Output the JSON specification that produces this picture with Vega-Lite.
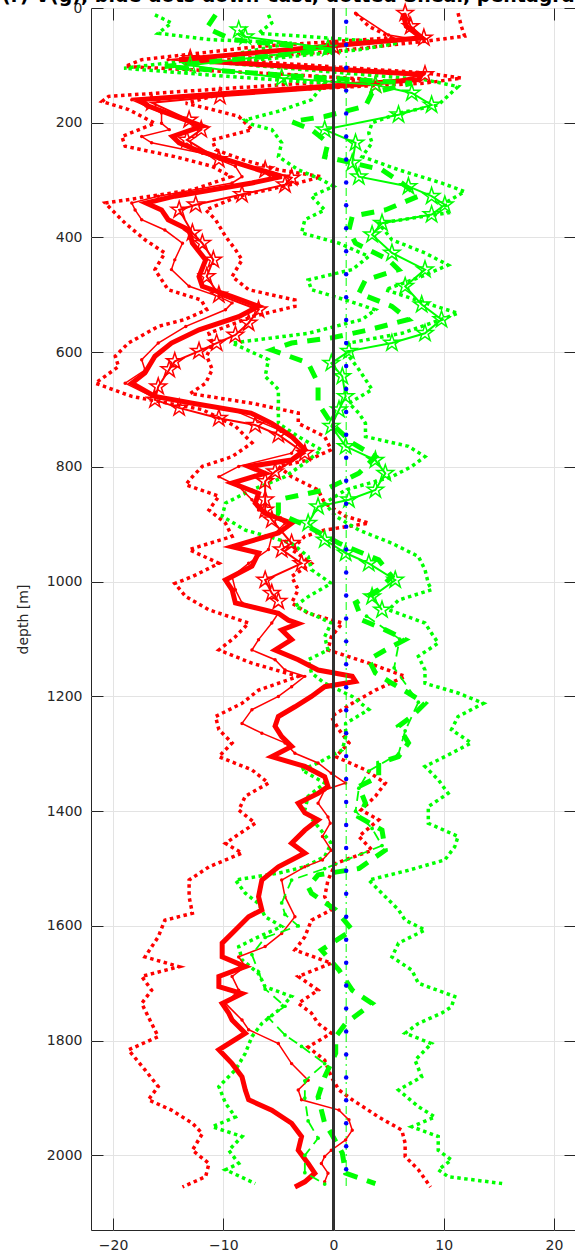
{
  "$schema": "https://vega.github.io/schema/vega-lite/v6.json",
  "width": 485,
  "height": 1222,
  "autosize": {"type": "none"},
  "padding": {"left": 91, "top": 8, "right": 0, "bottom": 30},
  "background": "white",
  "title": {"text": "U(r) V(g), blue dots down-cast, dotted Shear, pentagram up-cast", "font": "DejaVu Sans", "fontSize": 19, "fontWeight": "bold", "color": "#000000", "anchor": "middle", "offset": -20, "baseline": "alphabetic"},
  "config": {
    "view": {"stroke": "#262626", "strokeWidth": 1},
    "axis": {"labelFont": "DejaVu Sans", "labelFontSize": 14, "labelColor": "#262626", "titleFont": "DejaVu Sans", "titleFontSize": 14, "titleFontWeight": "normal", "titleColor": "#262626", "domain": false, "tickColor": "#262626", "tickSize": -12, "gridColor": "#e3e3e3", "gridWidth": 1, "format": "d"}
  },
  "data": {"values": [
{"s":"Ut","d":9,"x":6.3},{"s":"Ut","d":32,"x":6.6},{"s":"Ut","d":52,"x":8.0},{"s":"Ut","d":67,"x":-0.8},{"s":"Ut","d":90,"x":-14.0},{"s":"Ut","d":116,"x":8.0},{"s":"Ut","d":125,"x":7.7},{"s":"Ut","d":160,"x":-17.7},{"s":"Ut","d":171,"x":-16.8},{"s":"Ut","d":189,"x":-14.3},{"s":"Ut","d":206,"x":-11.9},{"s":"Ut","d":224,"x":-14.6},{"s":"Ut","d":235,"x":-14.0},{"s":"Ut","d":247,"x":-12.5},{"s":"Ut","d":264,"x":-9.8},{"s":"Ut","d":282,"x":-6.8},{"s":"Ut","d":294,"x":-4.7},{"s":"Ut","d":305,"x":-7.4},{"s":"Ut","d":328,"x":-14.4},{"s":"Ut","d":340,"x":-17.0},{"s":"Ut","d":352,"x":-15.6},{"s":"Ut","d":369,"x":-15.0},{"s":"Ut","d":387,"x":-13.1},{"s":"Ut","d":410,"x":-12.8},{"s":"Ut","d":439,"x":-11.6},{"s":"Ut","d":468,"x":-12.2},{"s":"Ut","d":485,"x":-11.9},{"s":"Ut","d":503,"x":-9.2},{"s":"Ut","d":520,"x":-6.8},{"s":"Ut","d":538,"x":-8.6},{"s":"Ut","d":561,"x":-12.2},{"s":"Ut","d":584,"x":-14.7},{"s":"Ut","d":607,"x":-16.2},{"s":"Ut","d":636,"x":-17.1},{"s":"Ut","d":654,"x":-18.3},{"s":"Ut","d":677,"x":-16.2},{"s":"Ut","d":689,"x":-12.8},{"s":"Ut","d":706,"x":-7.5},{"s":"Ut","d":724,"x":-5.6},{"s":"Ut","d":747,"x":-3.8},{"s":"Ut","d":770,"x":-2.6},{"s":"Ut","d":788,"x":-3.8},{"s":"Ut","d":799,"x":-7.7},{"s":"Ut","d":811,"x":-6.2},{"s":"Ut","d":828,"x":-9.2},{"s":"Ut","d":846,"x":-6.8},{"s":"Ut","d":863,"x":-7.1},{"s":"Ut","d":881,"x":-6.2},{"s":"Ut","d":898,"x":-3.8},{"s":"Ut","d":915,"x":-5.0},{"s":"Ut","d":939,"x":-9.2},{"s":"Ut","d":950,"x":-6.8},{"s":"Ut","d":973,"x":-7.4},{"s":"Ut","d":997,"x":-9.8},{"s":"Ut","d":1014,"x":-9.2},{"s":"Ut","d":1037,"x":-8.9},{"s":"Ut","d":1055,"x":-5.0},{"s":"Ut","d":1067,"x":-4.1},{"s":"Ut","d":1073,"x":-3.2},{"s":"Ut","d":1084,"x":-4.7},{"s":"Ut","d":1101,"x":-3.8},{"s":"Ut","d":1119,"x":-5.3},{"s":"Ut","d":1136,"x":-3.2},{"s":"Ut","d":1154,"x":-1.4},{"s":"Ut","d":1165,"x":1.7},{"s":"Ut","d":1174,"x":2.0},{"s":"Ut","d":1183,"x":-0.8},{"s":"Ut","d":1200,"x":-2.0},{"s":"Ut","d":1218,"x":-3.5},{"s":"Ut","d":1235,"x":-5.0},{"s":"Ut","d":1252,"x":-5.3},{"s":"Ut","d":1270,"x":-4.7},{"s":"Ut","d":1287,"x":-3.8},{"s":"Ut","d":1305,"x":-5.6},{"s":"Ut","d":1322,"x":-2.6},{"s":"Ut","d":1340,"x":-0.8},{"s":"Ut","d":1357,"x":-0.5},{"s":"Ut","d":1369,"x":-1.4},{"s":"Ut","d":1386,"x":-3.2},{"s":"Ut","d":1403,"x":-2.6},{"s":"Ut","d":1415,"x":-1.4},{"s":"Ut","d":1433,"x":-2.6},{"s":"Ut","d":1456,"x":-3.8},{"s":"Ut","d":1473,"x":-2.6},{"s":"Ut","d":1497,"x":-5.0},{"s":"Ut","d":1520,"x":-6.5},{"s":"Ut","d":1549,"x":-6.8},{"s":"Ut","d":1572,"x":-6.5},{"s":"Ut","d":1584,"x":-7.7},{"s":"Ut","d":1607,"x":-8.9},{"s":"Ut","d":1630,"x":-10.1},{"s":"Ut","d":1654,"x":-10.1},{"s":"Ut","d":1671,"x":-8.0},{"s":"Ut","d":1688,"x":-10.4},{"s":"Ut","d":1706,"x":-10.4},{"s":"Ut","d":1718,"x":-8.3},{"s":"Ut","d":1735,"x":-10.1},{"s":"Ut","d":1752,"x":-9.5},{"s":"Ut","d":1764,"x":-9.2},{"s":"Ut","d":1787,"x":-8.0},{"s":"Ut","d":1816,"x":-10.4},{"s":"Ut","d":1840,"x":-9.2},{"s":"Ut","d":1863,"x":-8.3},{"s":"Ut","d":1886,"x":-8.0},{"s":"Ut","d":1903,"x":-7.7},{"s":"Ut","d":1921,"x":-5.6},{"s":"Ut","d":1944,"x":-3.8},{"s":"Ut","d":1967,"x":-2.9},{"s":"Ut","d":1991,"x":-3.2},{"s":"Ut","d":2014,"x":-2.3},{"s":"Ut","d":2031,"x":-1.7},{"s":"Ut","d":2046,"x":-2.6},{"s":"Ut","d":2055,"x":-3.5},
{"s":"Un","d":9,"x":2.0},{"s":"Un","d":47,"x":5.0},{"s":"Un","d":55,"x":7.5},{"s":"Un","d":67,"x":-1.0},{"s":"Un","d":90,"x":-15.0},{"s":"Un","d":116,"x":7.5},{"s":"Un","d":125,"x":7.0},{"s":"Un","d":160,"x":-18.3},{"s":"Un","d":171,"x":-17.0},{"s":"Un","d":183,"x":-15.6},{"s":"Un","d":201,"x":-15.6},{"s":"Un","d":212,"x":-14.9},{"s":"Un","d":224,"x":-17.4},{"s":"Un","d":235,"x":-16.5},{"s":"Un","d":253,"x":-11.9},{"s":"Un","d":276,"x":-8.9},{"s":"Un","d":294,"x":-8.3},{"s":"Un","d":305,"x":-9.2},{"s":"Un","d":328,"x":-15.9},{"s":"Un","d":340,"x":-18.3},{"s":"Un","d":352,"x":-18.0},{"s":"Un","d":369,"x":-17.4},{"s":"Un","d":387,"x":-15.3},{"s":"Un","d":410,"x":-13.7},{"s":"Un","d":439,"x":-14.4},{"s":"Un","d":456,"x":-14.7},{"s":"Un","d":485,"x":-13.1},{"s":"Un","d":503,"x":-10.4},{"s":"Un","d":514,"x":-9.2},{"s":"Un","d":526,"x":-9.8},{"s":"Un","d":555,"x":-13.4},{"s":"Un","d":584,"x":-15.9},{"s":"Un","d":613,"x":-17.4},{"s":"Un","d":631,"x":-17.1},{"s":"Un","d":654,"x":-18.9},{"s":"Un","d":677,"x":-16.5},{"s":"Un","d":700,"x":-9.2},{"s":"Un","d":735,"x":-5.0},{"s":"Un","d":758,"x":-3.2},{"s":"Un","d":776,"x":-3.8},{"s":"Un","d":799,"x":-8.6},{"s":"Un","d":817,"x":-10.4},{"s":"Un","d":834,"x":-8.6},{"s":"Un","d":857,"x":-7.4},{"s":"Un","d":875,"x":-6.8},{"s":"Un","d":898,"x":-4.4},{"s":"Un","d":921,"x":-5.6},{"s":"Un","d":944,"x":-5.9},{"s":"Un","d":968,"x":-7.7},{"s":"Un","d":991,"x":-9.2},{"s":"Un","d":1014,"x":-8.9},{"s":"Un","d":1037,"x":-8.3},{"s":"Un","d":1055,"x":-5.0},{"s":"Un","d":1072,"x":-5.6},{"s":"Un","d":1101,"x":-6.8},{"s":"Un","d":1119,"x":-7.4},{"s":"Un","d":1136,"x":-5.3},{"s":"Un","d":1154,"x":-4.4},{"s":"Un","d":1165,"x":-2.6},{"s":"Un","d":1183,"x":-3.8},{"s":"Un","d":1200,"x":-5.0},{"s":"Un","d":1223,"x":-7.4},{"s":"Un","d":1247,"x":-8.3},{"s":"Un","d":1264,"x":-6.5},{"s":"Un","d":1281,"x":-4.4},{"s":"Un","d":1299,"x":-3.5},{"s":"Un","d":1316,"x":-1.4},{"s":"Un","d":1334,"x":-0.2},{"s":"Un","d":1351,"x":1.1},{"s":"Un","d":1363,"x":-0.8},{"s":"Un","d":1386,"x":-1.4},{"s":"Un","d":1410,"x":-0.5},{"s":"Un","d":1421,"x":-0.3},{"s":"Un","d":1444,"x":-1.0},{"s":"Un","d":1468,"x":-0.2},{"s":"Un","d":1485,"x":-1.0},{"s":"Un","d":1497,"x":-2.6},{"s":"Un","d":1520,"x":-4.7},{"s":"Un","d":1549,"x":-4.4},{"s":"Un","d":1584,"x":-3.5},{"s":"Un","d":1613,"x":-4.7},{"s":"Un","d":1636,"x":-6.2},{"s":"Un","d":1654,"x":-8.6},{"s":"Un","d":1671,"x":-8.0},{"s":"Un","d":1688,"x":-9.2},{"s":"Un","d":1712,"x":-8.6},{"s":"Un","d":1735,"x":-9.8},{"s":"Un","d":1764,"x":-8.3},{"s":"Un","d":1781,"x":-7.7},{"s":"Un","d":1805,"x":-5.0},{"s":"Un","d":1840,"x":-3.8},{"s":"Un","d":1869,"x":-2.3},{"s":"Un","d":1886,"x":-3.2},{"s":"Un","d":1903,"x":-2.9},{"s":"Un","d":1921,"x":0.5},{"s":"Un","d":1938,"x":1.4},{"s":"Un","d":1956,"x":1.7},{"s":"Un","d":1973,"x":1.1},{"s":"Un","d":1991,"x":-0.2},{"s":"Un","d":2002,"x":-0.8},{"s":"Un","d":2014,"x":-1.1},{"s":"Un","d":2031,"x":-0.5},{"s":"Un","d":2046,"x":-0.8},
{"s":"Us","d":9,"x":6.5},{"s":"Us","d":32,"x":7.0},{"s":"Us","d":52,"x":8.2},{"s":"Us","d":67,"x":0.0},{"s":"Us","d":88,"x":-13.0},{"s":"Us","d":116,"x":8.3},{"s":"Us","d":134,"x":3.8},{"s":"Us","d":154,"x":-10.3},{"s":"Us","d":165,"x":-16.5},{"s":"Us","d":195,"x":-13.1},{"s":"Us","d":212,"x":-12.0},{"s":"Us","d":230,"x":-13.3},{"s":"Us","d":264,"x":-10.4},{"s":"Us","d":282,"x":-6.2},{"s":"Us","d":296,"x":-3.8},{"s":"Us","d":308,"x":-4.4},{"s":"Us","d":325,"x":-8.3},{"s":"Us","d":343,"x":-12.5},{"s":"Us","d":352,"x":-14.0},{"s":"Us","d":392,"x":-12.8},{"s":"Us","d":410,"x":-11.9},{"s":"Us","d":439,"x":-10.9},{"s":"Us","d":468,"x":-11.5},{"s":"Us","d":500,"x":-10.4},{"s":"Us","d":526,"x":-6.8},{"s":"Us","d":549,"x":-7.7},{"s":"Us","d":570,"x":-8.9},{"s":"Us","d":584,"x":-10.6},{"s":"Us","d":598,"x":-12.2},{"s":"Us","d":616,"x":-14.4},{"s":"Us","d":630,"x":-14.9},{"s":"Us","d":660,"x":-15.9},{"s":"Us","d":683,"x":-16.2},{"s":"Us","d":697,"x":-14.0},{"s":"Us","d":715,"x":-10.4},{"s":"Us","d":727,"x":-7.1},{"s":"Us","d":744,"x":-5.0},{"s":"Us","d":776,"x":-2.6},{"s":"Us","d":808,"x":-5.3},{"s":"Us","d":825,"x":-6.2},{"s":"Us","d":857,"x":-6.2},{"s":"Us","d":875,"x":-6.2},{"s":"Us","d":892,"x":-5.6},{"s":"Us","d":933,"x":-3.8},{"s":"Us","d":944,"x":-4.7},{"s":"Us","d":968,"x":-2.9},{"s":"Us","d":997,"x":-6.2},{"s":"Us","d":1020,"x":-5.6},{"s":"Us","d":1034,"x":-5.0},
{"s":"UL","d":9,"x":2.0},{"s":"UL","d":32,"x":3.2},{"s":"UL","d":52,"x":5.3},{"s":"UL","d":67,"x":-6.8},{"s":"UL","d":90,"x":-17.4},{"s":"UL","d":102,"x":-18.9},{"s":"UL","d":116,"x":-4.0},{"s":"UL","d":124,"x":3.0},{"s":"UL","d":154,"x":-20.4},{"s":"UL","d":163,"x":-21.0},{"s":"UL","d":177,"x":-18.6},{"s":"UL","d":201,"x":-16.2},{"s":"UL","d":224,"x":-19.2},{"s":"UL","d":241,"x":-18.9},{"s":"UL","d":259,"x":-14.4},{"s":"UL","d":276,"x":-11.0},{"s":"UL","d":294,"x":-9.3},{"s":"UL","d":317,"x":-12.8},{"s":"UL","d":340,"x":-20.7},{"s":"UL","d":352,"x":-20.1},{"s":"UL","d":375,"x":-18.9},{"s":"UL","d":404,"x":-17.1},{"s":"UL","d":427,"x":-15.3},{"s":"UL","d":456,"x":-16.2},{"s":"UL","d":491,"x":-15.0},{"s":"UL","d":509,"x":-12.0},{"s":"UL","d":526,"x":-11.5},{"s":"UL","d":543,"x":-13.5},{"s":"UL","d":555,"x":-15.9},{"s":"UL","d":584,"x":-18.6},{"s":"UL","d":607,"x":-19.8},{"s":"UL","d":625,"x":-19.5},{"s":"UL","d":654,"x":-21.6},{"s":"UL","d":677,"x":-18.3},{"s":"UL","d":700,"x":-11.9},{"s":"UL","d":729,"x":-8.9},{"s":"UL","d":758,"x":-7.4},{"s":"UL","d":782,"x":-9.2},{"s":"UL","d":799,"x":-11.9},{"s":"UL","d":817,"x":-12.8},{"s":"UL","d":831,"x":-13.4},{"s":"UL","d":851,"x":-10.4},{"s":"UL","d":875,"x":-11.3},{"s":"UL","d":898,"x":-9.8},{"s":"UL","d":921,"x":-9.2},{"s":"UL","d":944,"x":-13.1},{"s":"UL","d":968,"x":-10.4},{"s":"UL","d":991,"x":-12.8},{"s":"UL","d":1003,"x":-14.4},{"s":"UL","d":1026,"x":-13.4},{"s":"UL","d":1049,"x":-11.3},{"s":"UL","d":1072,"x":-7.7},{"s":"UL","d":1096,"x":-8.9},{"s":"UL","d":1119,"x":-10.4},{"s":"UL","d":1142,"x":-7.4},{"s":"UL","d":1165,"x":-3.2},{"s":"UL","d":1189,"x":-6.8},{"s":"UL","d":1212,"x":-8.3},{"s":"UL","d":1235,"x":-10.7},{"s":"UL","d":1258,"x":-10.4},{"s":"UL","d":1281,"x":-9.2},{"s":"UL","d":1305,"x":-10.4},{"s":"UL","d":1328,"x":-7.4},{"s":"UL","d":1351,"x":-5.9},{"s":"UL","d":1374,"x":-8.0},{"s":"UL","d":1398,"x":-8.6},{"s":"UL","d":1421,"x":-7.1},{"s":"UL","d":1444,"x":-8.9},{"s":"UL","d":1456,"x":-9.8},{"s":"UL","d":1473,"x":-8.3},{"s":"UL","d":1497,"x":-11.3},{"s":"UL","d":1520,"x":-13.1},{"s":"UL","d":1549,"x":-13.1},{"s":"UL","d":1578,"x":-12.8},{"s":"UL","d":1590,"x":-15.3},{"s":"UL","d":1619,"x":-15.9},{"s":"UL","d":1654,"x":-17.1},{"s":"UL","d":1671,"x":-14.0},{"s":"UL","d":1688,"x":-17.4},{"s":"UL","d":1712,"x":-16.5},{"s":"UL","d":1735,"x":-17.4},{"s":"UL","d":1770,"x":-16.5},{"s":"UL","d":1793,"x":-15.9},{"s":"UL","d":1816,"x":-18.6},{"s":"UL","d":1851,"x":-17.1},{"s":"UL","d":1880,"x":-15.9},{"s":"UL","d":1903,"x":-16.8},{"s":"UL","d":1921,"x":-14.7},{"s":"UL","d":1944,"x":-12.8},{"s":"UL","d":1962,"x":-11.9},{"s":"UL","d":1991,"x":-12.8},{"s":"UL","d":2014,"x":-11.3},{"s":"UL","d":2037,"x":-11.6},{"s":"UL","d":2055,"x":-13.7},
{"s":"UR","d":9,"x":11.3},{"s":"UR","d":32,"x":11.6},{"s":"UR","d":49,"x":11.9},{"s":"UR","d":58,"x":8.3},{"s":"UR","d":76,"x":-0.2},{"s":"UR","d":90,"x":-9.8},{"s":"UR","d":113,"x":8.3},{"s":"UR","d":122,"x":11.6},{"s":"UR","d":131,"x":8.3},{"s":"UR","d":148,"x":-9.8},{"s":"UR","d":166,"x":-13.4},{"s":"UR","d":177,"x":-11.0},{"s":"UR","d":189,"x":-8.6},{"s":"UR","d":212,"x":-7.4},{"s":"UR","d":230,"x":-11.0},{"s":"UR","d":247,"x":-10.7},{"s":"UR","d":264,"x":-8.3},{"s":"UR","d":282,"x":-5.0},{"s":"UR","d":294,"x":-1.1},{"s":"UR","d":305,"x":-3.2},{"s":"UR","d":328,"x":-8.6},{"s":"UR","d":352,"x":-11.6},{"s":"UR","d":369,"x":-10.7},{"s":"UR","d":398,"x":-9.8},{"s":"UR","d":421,"x":-8.9},{"s":"UR","d":439,"x":-8.3},{"s":"UR","d":468,"x":-9.2},{"s":"UR","d":491,"x":-7.7},{"s":"UR","d":509,"x":-3.5},{"s":"UR","d":520,"x":-3.5},{"s":"UR","d":538,"x":-7.4},{"s":"UR","d":567,"x":-11.3},{"s":"UR","d":584,"x":-11.0},{"s":"UR","d":607,"x":-11.5},{"s":"UR","d":630,"x":-11.0},{"s":"UR","d":654,"x":-11.6},{"s":"UR","d":672,"x":-13.0},{"s":"UR","d":689,"x":-7.4},{"s":"UR","d":706,"x":-3.2},{"s":"UR","d":724,"x":-3.2},{"s":"UR","d":747,"x":-0.8},{"s":"UR","d":770,"x":-0.2},{"s":"UR","d":788,"x":-2.3},{"s":"UR","d":799,"x":-5.0},{"s":"UR","d":817,"x":-3.8},{"s":"UR","d":840,"x":-1.4},{"s":"UR","d":863,"x":-0.8},{"s":"UR","d":886,"x":1.1},{"s":"UR","d":898,"x":3.2},{"s":"UR","d":910,"x":-0.8},{"s":"UR","d":921,"x":-2.6},{"s":"UR","d":944,"x":-3.8},{"s":"UR","d":968,"x":-2.0},{"s":"UR","d":991,"x":-3.8},{"s":"UR","d":1014,"x":-3.2},{"s":"UR","d":1037,"x":-3.8},{"s":"UR","d":1055,"x":-2.3},{"s":"UR","d":1072,"x":0.8},{"s":"UR","d":1096,"x":-0.2},{"s":"UR","d":1119,"x":-0.5},{"s":"UR","d":1142,"x":3.2},{"s":"UR","d":1165,"x":6.5},{"s":"UR","d":1189,"x":3.8},{"s":"UR","d":1212,"x":1.7},{"s":"UR","d":1235,"x":-0.2},{"s":"UR","d":1258,"x":0.5},{"s":"UR","d":1281,"x":1.4},{"s":"UR","d":1305,"x":0.2},{"s":"UR","d":1328,"x":2.9},{"s":"UR","d":1351,"x":4.7},{"s":"UR","d":1374,"x":3.8},{"s":"UR","d":1398,"x":2.5},{"s":"UR","d":1415,"x":4.1},{"s":"UR","d":1444,"x":2.3},{"s":"UR","d":1468,"x":3.5},{"s":"UR","d":1491,"x":0.2},{"s":"UR","d":1520,"x":-0.5},{"s":"UR","d":1549,"x":-0.8},{"s":"UR","d":1572,"x":-0.2},{"s":"UR","d":1590,"x":-2.0},{"s":"UR","d":1619,"x":-2.6},{"s":"UR","d":1642,"x":-3.5},{"s":"UR","d":1665,"x":-0.2},{"s":"UR","d":1688,"x":-3.2},{"s":"UR","d":1712,"x":-1.4},{"s":"UR","d":1735,"x":-3.2},{"s":"UR","d":1752,"x":-2.0},{"s":"UR","d":1770,"x":-1.4},{"s":"UR","d":1787,"x":-0.2},{"s":"UR","d":1811,"x":-2.3},{"s":"UR","d":1834,"x":-0.8},{"s":"UR","d":1863,"x":-0.2},{"s":"UR","d":1886,"x":0.5},{"s":"UR","d":1903,"x":1.7},{"s":"UR","d":1933,"x":4.1},{"s":"UR","d":1956,"x":6.2},{"s":"UR","d":1979,"x":6.5},{"s":"UR","d":2002,"x":6.5},{"s":"UR","d":2025,"x":7.7},{"s":"UR","d":2055,"x":8.8},
{"s":"Vt","d":12,"x":-10.7},{"s":"Vt","d":35,"x":-11.5},{"s":"Vt","d":55,"x":-9.2},{"s":"Vt","d":73,"x":-0.2},{"s":"Vt","d":102,"x":-15.3},{"s":"Vt","d":119,"x":-3.2},{"s":"Vt","d":131,"x":7.1},{"s":"Vt","d":148,"x":3.5},{"s":"Vt","d":171,"x":2.9},{"s":"Vt","d":189,"x":-0.8},{"s":"Vt","d":198,"x":-3.8},{"s":"Vt","d":212,"x":-2.0},{"s":"Vt","d":235,"x":-0.5},{"s":"Vt","d":259,"x":-0.8},{"s":"Vt","d":282,"x":4.4},{"s":"Vt","d":305,"x":6.2},{"s":"Vt","d":328,"x":7.7},{"s":"Vt","d":352,"x":4.7},{"s":"Vt","d":363,"x":1.7},{"s":"Vt","d":387,"x":1.4},{"s":"Vt","d":410,"x":2.0},{"s":"Vt","d":439,"x":5.0},{"s":"Vt","d":456,"x":5.9},{"s":"Vt","d":474,"x":2.9},{"s":"Vt","d":497,"x":2.3},{"s":"Vt","d":520,"x":5.3},{"s":"Vt","d":543,"x":6.8},{"s":"Vt","d":561,"x":3.2},{"s":"Vt","d":575,"x":-0.2},{"s":"Vt","d":584,"x":-3.8},{"s":"Vt","d":596,"x":-5.6},{"s":"Vt","d":619,"x":-2.3},{"s":"Vt","d":654,"x":-1.4},{"s":"Vt","d":689,"x":-1.4},{"s":"Vt","d":724,"x":-0.2},{"s":"Vt","d":758,"x":1.7},{"s":"Vt","d":782,"x":3.8},{"s":"Vt","d":811,"x":2.3},{"s":"Vt","d":840,"x":-0.8},{"s":"Vt","d":857,"x":-5.0},{"s":"Vt","d":881,"x":-5.0},{"s":"Vt","d":904,"x":-2.3},{"s":"Vt","d":933,"x":0.5},{"s":"Vt","d":962,"x":4.1},{"s":"Vt","d":991,"x":5.3},{"s":"Vt","d":1014,"x":4.1},{"s":"Vt","d":1037,"x":2.0},{"s":"Vt","d":1067,"x":2.6},{"s":"Vt","d":1084,"x":4.7},{"s":"Vt","d":1101,"x":6.5},{"s":"Vt","d":1119,"x":4.7},{"s":"Vt","d":1136,"x":3.2},{"s":"Vt","d":1159,"x":3.8},{"s":"Vt","d":1177,"x":5.3},{"s":"Vt","d":1194,"x":6.8},{"s":"Vt","d":1212,"x":8.3},{"s":"Vt","d":1235,"x":7.1},{"s":"Vt","d":1252,"x":5.9},{"s":"Vt","d":1281,"x":6.8},{"s":"Vt","d":1305,"x":5.9},{"s":"Vt","d":1316,"x":4.1},{"s":"Vt","d":1340,"x":4.1},{"s":"Vt","d":1357,"x":2.3},{"s":"Vt","d":1386,"x":2.9},{"s":"Vt","d":1410,"x":2.3},{"s":"Vt","d":1433,"x":4.4},{"s":"Vt","d":1468,"x":4.7},{"s":"Vt","d":1500,"x":2.3},{"s":"Vt","d":1511,"x":-1.4},{"s":"Vt","d":1532,"x":-2.3},{"s":"Vt","d":1543,"x":-2.0},{"s":"Vt","d":1572,"x":0.2},{"s":"Vt","d":1607,"x":1.7},{"s":"Vt","d":1642,"x":-1.1},{"s":"Vt","d":1677,"x":0.5},{"s":"Vt","d":1712,"x":1.7},{"s":"Vt","d":1735,"x":3.5},{"s":"Vt","d":1770,"x":1.1},{"s":"Vt","d":1793,"x":0.2},{"s":"Vt","d":1822,"x":0.2},{"s":"Vt","d":1863,"x":-0.8},{"s":"Vt","d":1898,"x":-1.4},{"s":"Vt","d":1944,"x":-0.8},{"s":"Vt","d":1962,"x":-0.2},{"s":"Vt","d":1996,"x":0.8},{"s":"Vt","d":2031,"x":1.1},{"s":"Vt","d":2049,"x":3.8},
{"s":"Vs","d":38,"x":-8.6},{"s":"Vs","d":50,"x":-8.0},{"s":"Vs","d":70,"x":-0.5},{"s":"Vs","d":100,"x":-13.0},{"s":"Vs","d":122,"x":-4.7},{"s":"Vs","d":134,"x":3.8},{"s":"Vs","d":148,"x":7.1},{"s":"Vs","d":169,"x":8.9},{"s":"Vs","d":186,"x":5.9},{"s":"Vs","d":212,"x":-0.8},{"s":"Vs","d":235,"x":2.0},{"s":"Vs","d":270,"x":1.7},{"s":"Vs","d":294,"x":2.3},{"s":"Vs","d":311,"x":6.8},{"s":"Vs","d":328,"x":8.9},{"s":"Vs","d":343,"x":10.1},{"s":"Vs","d":360,"x":8.9},{"s":"Vs","d":375,"x":4.4},{"s":"Vs","d":395,"x":3.5},{"s":"Vs","d":427,"x":5.3},{"s":"Vs","d":456,"x":8.3},{"s":"Vs","d":485,"x":6.5},{"s":"Vs","d":517,"x":8.0},{"s":"Vs","d":543,"x":9.8},{"s":"Vs","d":567,"x":8.3},{"s":"Vs","d":584,"x":5.3},{"s":"Vs","d":598,"x":1.4},{"s":"Vs","d":619,"x":-0.2},{"s":"Vs","d":642,"x":0.8},{"s":"Vs","d":677,"x":1.1},{"s":"Vs","d":700,"x":0.5},{"s":"Vs","d":729,"x":-0.2},{"s":"Vs","d":764,"x":1.1},{"s":"Vs","d":788,"x":3.8},{"s":"Vs","d":811,"x":4.7},{"s":"Vs","d":840,"x":3.8},{"s":"Vs","d":857,"x":1.4},{"s":"Vs","d":869,"x":-1.4},{"s":"Vs","d":898,"x":-2.3},{"s":"Vs","d":927,"x":-0.8},{"s":"Vs","d":950,"x":1.1},{"s":"Vs","d":968,"x":3.2},{"s":"Vs","d":997,"x":5.6},{"s":"Vs","d":1026,"x":3.5},{"s":"Vs","d":1049,"x":4.4},
{"s":"Vn","d":1060,"x":3.0},{"s":"Vn","d":1100,"x":6.0},{"s":"Vn","d":1150,"x":5.5},{"s":"Vn","d":1210,"x":7.7},{"s":"Vn","d":1260,"x":6.5},{"s":"Vn","d":1300,"x":5.9},{"s":"Vn","d":1330,"x":3.2},{"s":"Vn","d":1360,"x":2.3},{"s":"Vn","d":1400,"x":2.0},{"s":"Vn","d":1430,"x":3.5},{"s":"Vn","d":1460,"x":4.4},{"s":"Vn","d":1500,"x":-0.8},{"s":"Vn","d":1520,"x":-3.8},{"s":"Vn","d":1560,"x":-4.7},{"s":"Vn","d":1580,"x":-4.4},{"s":"Vn","d":1600,"x":-3.2},{"s":"Vn","d":1620,"x":-6.2},{"s":"Vn","d":1650,"x":-7.4},{"s":"Vn","d":1680,"x":-6.8},{"s":"Vn","d":1710,"x":-6.2},{"s":"Vn","d":1740,"x":-4.4},{"s":"Vn","d":1760,"x":-5.9},{"s":"Vn","d":1790,"x":-4.4},{"s":"Vn","d":1810,"x":-2.9},{"s":"Vn","d":1840,"x":-0.8},{"s":"Vn","d":1870,"x":-2.6},{"s":"Vn","d":1900,"x":-2.6},{"s":"Vn","d":1940,"x":-2.3},{"s":"Vn","d":1970,"x":-1.4},{"s":"Vn","d":2000,"x":-2.6},{"s":"Vn","d":2030,"x":-2.6},{"s":"Vn","d":2050,"x":-0.8},
{"s":"VL","d":12,"x":-16.2},{"s":"VL","d":26,"x":-14.7},{"s":"VL","d":44,"x":-15.9},{"s":"VL","d":55,"x":-11.3},{"s":"VL","d":61,"x":-3.8},{"s":"VL","d":84,"x":-10.0},{"s":"VL","d":105,"x":-19.0},{"s":"VL","d":119,"x":-9.8},{"s":"VL","d":131,"x":-0.8},{"s":"VL","d":160,"x":-2.0},{"s":"VL","d":180,"x":-5.0},{"s":"VL","d":195,"x":-8.0},{"s":"VL","d":203,"x":-7.4},{"s":"VL","d":212,"x":-5.6},{"s":"VL","d":235,"x":-4.7},{"s":"VL","d":259,"x":-5.0},{"s":"VL","d":282,"x":-3.2},{"s":"VL","d":299,"x":-1.1},{"s":"VL","d":311,"x":0.0},{"s":"VL","d":328,"x":-2.0},{"s":"VL","d":352,"x":-0.8},{"s":"VL","d":369,"x":-2.6},{"s":"VL","d":392,"x":-2.9},{"s":"VL","d":410,"x":0.5},{"s":"VL","d":433,"x":3.2},{"s":"VL","d":456,"x":1.7},{"s":"VL","d":474,"x":-2.3},{"s":"VL","d":491,"x":-2.0},{"s":"VL","d":509,"x":1.1},{"s":"VL","d":526,"x":3.8},{"s":"VL","d":543,"x":2.6},{"s":"VL","d":567,"x":-2.3},{"s":"VL","d":584,"x":-9.2},{"s":"VL","d":613,"x":-5.9},{"s":"VL","d":642,"x":-6.2},{"s":"VL","d":665,"x":-5.0},{"s":"VL","d":689,"x":-5.0},{"s":"VL","d":724,"x":-5.0},{"s":"VL","d":747,"x":-3.2},{"s":"VL","d":770,"x":-1.1},{"s":"VL","d":793,"x":-2.6},{"s":"VL","d":817,"x":-4.4},{"s":"VL","d":840,"x":-7.4},{"s":"VL","d":863,"x":-9.8},{"s":"VL","d":886,"x":-10.1},{"s":"VL","d":910,"x":-8.0},{"s":"VL","d":933,"x":-3.8},{"s":"VL","d":956,"x":-2.3},{"s":"VL","d":979,"x":-2.0},{"s":"VL","d":1003,"x":-0.2},{"s":"VL","d":1026,"x":-2.3},{"s":"VL","d":1043,"x":-3.5},{"s":"VL","d":1072,"x":-0.2},{"s":"VL","d":1096,"x":-0.8},{"s":"VL","d":1119,"x":-0.5},{"s":"VL","d":1136,"x":-2.3},{"s":"VL","d":1159,"x":-2.0},{"s":"VL","d":1177,"x":-0.8},{"s":"VL","d":1200,"x":1.7},{"s":"VL","d":1223,"x":3.2},{"s":"VL","d":1247,"x":1.1},{"s":"VL","d":1270,"x":1.1},{"s":"VL","d":1293,"x":0.8},{"s":"VL","d":1316,"x":-1.4},{"s":"VL","d":1328,"x":-2.9},{"s":"VL","d":1351,"x":-0.8},{"s":"VL","d":1374,"x":-2.3},{"s":"VL","d":1398,"x":-2.6},{"s":"VL","d":1427,"x":-1.4},{"s":"VL","d":1456,"x":-0.2},{"s":"VL","d":1479,"x":-0.8},{"s":"VL","d":1497,"x":-2.6},{"s":"VL","d":1508,"x":-5.0},{"s":"VL","d":1520,"x":-8.9},{"s":"VL","d":1543,"x":-8.0},{"s":"VL","d":1561,"x":-6.8},{"s":"VL","d":1584,"x":-6.2},{"s":"VL","d":1601,"x":-4.7},{"s":"VL","d":1619,"x":-6.8},{"s":"VL","d":1636,"x":-8.6},{"s":"VL","d":1659,"x":-8.3},{"s":"VL","d":1683,"x":-6.8},{"s":"VL","d":1706,"x":-6.2},{"s":"VL","d":1723,"x":-3.8},{"s":"VL","d":1747,"x":-5.0},{"s":"VL","d":1770,"x":-6.5},{"s":"VL","d":1793,"x":-7.4},{"s":"VL","d":1822,"x":-8.0},{"s":"VL","d":1851,"x":-8.9},{"s":"VL","d":1880,"x":-10.4},{"s":"VL","d":1909,"x":-9.8},{"s":"VL","d":1933,"x":-8.9},{"s":"VL","d":1950,"x":-11.0},{"s":"VL","d":1967,"x":-8.3},{"s":"VL","d":1991,"x":-9.5},{"s":"VL","d":2014,"x":-8.6},{"s":"VL","d":2025,"x":-9.8},{"s":"VL","d":2049,"x":-7.1},
{"s":"VR","d":12,"x":-5.9},{"s":"VR","d":26,"x":-5.6},{"s":"VR","d":44,"x":-6.8},{"s":"VR","d":61,"x":5.9},{"s":"VR","d":73,"x":2.3},{"s":"VR","d":96,"x":-9.8},{"s":"VR","d":125,"x":8.3},{"s":"VR","d":137,"x":11.3},{"s":"VR","d":169,"x":9.5},{"s":"VR","d":183,"x":6.0},{"s":"VR","d":200,"x":3.5},{"s":"VR","d":218,"x":3.2},{"s":"VR","d":235,"x":3.5},{"s":"VR","d":259,"x":2.6},{"s":"VR","d":282,"x":5.9},{"s":"VR","d":305,"x":9.8},{"s":"VR","d":320,"x":11.9},{"s":"VR","d":340,"x":10.1},{"s":"VR","d":357,"x":10.4},{"s":"VR","d":375,"x":4.1},{"s":"VR","d":404,"x":5.3},{"s":"VR","d":427,"x":8.3},{"s":"VR","d":448,"x":10.4},{"s":"VR","d":468,"x":8.0},{"s":"VR","d":491,"x":4.7},{"s":"VR","d":514,"x":8.3},{"s":"VR","d":532,"x":11.3},{"s":"VR","d":549,"x":8.9},{"s":"VR","d":567,"x":6.2},{"s":"VR","d":584,"x":1.4},{"s":"VR","d":607,"x":1.4},{"s":"VR","d":630,"x":2.3},{"s":"VR","d":665,"x":3.5},{"s":"VR","d":689,"x":1.4},{"s":"VR","d":706,"x":2.3},{"s":"VR","d":724,"x":2.9},{"s":"VR","d":747,"x":2.9},{"s":"VR","d":764,"x":6.8},{"s":"VR","d":782,"x":8.3},{"s":"VR","d":799,"x":7.1},{"s":"VR","d":817,"x":5.3},{"s":"VR","d":840,"x":1.1},{"s":"VR","d":863,"x":-0.8},{"s":"VR","d":886,"x":0.2},{"s":"VR","d":910,"x":2.3},{"s":"VR","d":933,"x":5.3},{"s":"VR","d":956,"x":7.7},{"s":"VR","d":979,"x":8.3},{"s":"VR","d":1003,"x":8.6},{"s":"VR","d":1014,"x":8.9},{"s":"VR","d":1032,"x":5.9},{"s":"VR","d":1049,"x":5.0},{"s":"VR","d":1072,"x":8.3},{"s":"VR","d":1090,"x":8.9},{"s":"VR","d":1107,"x":9.5},{"s":"VR","d":1130,"x":7.7},{"s":"VR","d":1154,"x":8.3},{"s":"VR","d":1177,"x":8.3},{"s":"VR","d":1194,"x":11.3},{"s":"VR","d":1212,"x":13.6},{"s":"VR","d":1235,"x":11.3},{"s":"VR","d":1258,"x":10.7},{"s":"VR","d":1281,"x":12.5},{"s":"VR","d":1305,"x":10.1},{"s":"VR","d":1322,"x":8.3},{"s":"VR","d":1345,"x":9.5},{"s":"VR","d":1369,"x":10.4},{"s":"VR","d":1392,"x":8.6},{"s":"VR","d":1421,"x":8.6},{"s":"VR","d":1444,"x":11.3},{"s":"VR","d":1462,"x":11.0},{"s":"VR","d":1485,"x":10.1},{"s":"VR","d":1503,"x":6.8},{"s":"VR","d":1520,"x":3.2},{"s":"VR","d":1549,"x":4.7},{"s":"VR","d":1572,"x":5.9},{"s":"VR","d":1590,"x":6.5},{"s":"VR","d":1607,"x":8.3},{"s":"VR","d":1630,"x":5.9},{"s":"VR","d":1654,"x":5.3},{"s":"VR","d":1677,"x":7.1},{"s":"VR","d":1700,"x":7.7},{"s":"VR","d":1723,"x":11.0},{"s":"VR","d":1741,"x":10.7},{"s":"VR","d":1752,"x":9.8},{"s":"VR","d":1770,"x":7.7},{"s":"VR","d":1787,"x":6.5},{"s":"VR","d":1805,"x":8.9},{"s":"VR","d":1834,"x":7.4},{"s":"VR","d":1863,"x":8.0},{"s":"VR","d":1886,"x":5.9},{"s":"VR","d":1915,"x":7.7},{"s":"VR","d":1933,"x":9.2},{"s":"VR","d":1950,"x":7.1},{"s":"VR","d":1967,"x":9.5},{"s":"VR","d":1991,"x":9.5},{"s":"VR","d":2008,"x":10.7},{"s":"VR","d":2025,"x":9.5},{"s":"VR","d":2037,"x":10.4},{"s":"VR","d":2049,"x":15.3},
{"s":"G0","d":0,"x":1.15},{"s":"G0","d":2060,"x":1.15},
{"s":"B","d":24,"x":1.15},{"s":"B","d":64,"x":1.15},{"s":"B","d":104,"x":1.15},{"s":"B","d":144,"x":1.15},{"s":"B","d":184,"x":1.15},{"s":"B","d":224,"x":1.15},{"s":"B","d":264,"x":1.15},{"s":"B","d":304,"x":1.15},{"s":"B","d":344,"x":1.15},{"s":"B","d":384,"x":1.15},{"s":"B","d":424,"x":1.15},{"s":"B","d":464,"x":1.15},{"s":"B","d":504,"x":1.15},{"s":"B","d":544,"x":1.15},{"s":"B","d":584,"x":1.15},{"s":"B","d":624,"x":1.15},{"s":"B","d":664,"x":1.15},{"s":"B","d":704,"x":1.15},{"s":"B","d":744,"x":1.15},{"s":"B","d":784,"x":1.15},{"s":"B","d":824,"x":1.15},{"s":"B","d":864,"x":1.15},{"s":"B","d":904,"x":1.15},{"s":"B","d":944,"x":1.15},{"s":"B","d":984,"x":1.15},{"s":"B","d":1024,"x":1.15},{"s":"B","d":1064,"x":1.15},{"s":"B","d":1104,"x":1.15},{"s":"B","d":1144,"x":1.15},{"s":"B","d":1184,"x":1.15},{"s":"B","d":1224,"x":1.15},{"s":"B","d":1264,"x":1.15},{"s":"B","d":1304,"x":1.15},{"s":"B","d":1344,"x":1.15},{"s":"B","d":1384,"x":1.15},{"s":"B","d":1424,"x":1.15},{"s":"B","d":1464,"x":1.15},{"s":"B","d":1504,"x":1.15},{"s":"B","d":1544,"x":1.15},{"s":"B","d":1584,"x":1.15},{"s":"B","d":1624,"x":1.15},{"s":"B","d":1664,"x":1.15},{"s":"B","d":1704,"x":1.15},{"s":"B","d":1744,"x":1.15},{"s":"B","d":1784,"x":1.15},{"s":"B","d":1824,"x":1.15},{"s":"B","d":1864,"x":1.15},{"s":"B","d":1904,"x":1.15},{"s":"B","d":1944,"x":1.15},{"s":"B","d":1984,"x":1.15},{"s":"B","d":2024,"x":1.15}
  ]},
  "resolve": {"axis": {"x": "independent", "y": "independent"}},
  "layer": [
    {
      "encoding": {
        "x": {"field": "x", "type": "quantitative", "scale": {"domain": [-22, 22], "nice": false, "zero": false}, "axis": {"orient": "bottom", "values": [-20, -10, 0, 10, 20], "title": null, "grid": true, "labelPadding": 20}},
        "y": {"field": "d", "type": "quantitative", "scale": {"domain": [0, 2130], "reverse": true, "nice": false, "zero": false}, "axis": {"orient": "left", "values": [0, 200, 400, 600, 800, 1000, 1200, 1400, 1600, 1800, 2000], "title": "depth [m]", "titleFontSize": 14, "grid": true, "labelPadding": 21, "titlePadding": 16}},
        "order": {"field": "d", "type": "quantitative"}
      },
      "layer": [
        {"transform": [{"filter": "datum.s === 'UL' || datum.s === 'UR'"}], "mark": {"type": "line", "color": "#ff0000", "strokeWidth": 3.5, "strokeDash": [3.5, 3.5], "strokeCap": "butt"}, "encoding": {"detail": {"field": "s"}}},
        {"transform": [{"filter": "datum.s === 'VL' || datum.s === 'VR'"}], "mark": {"type": "line", "color": "#00ff00", "strokeWidth": 3.5, "strokeDash": [3.5, 3.5], "strokeCap": "butt"}, "encoding": {"detail": {"field": "s"}}},
        {"transform": [{"filter": "datum.s === 'Ut'"}], "mark": {"type": "line", "color": "#ff0000", "strokeWidth": 5}},
        {"transform": [{"filter": "datum.s === 'Un'"}], "mark": {"type": "line", "color": "#ff0000", "strokeWidth": 1.5}},
        {"transform": [{"filter": "datum.s === 'Un'"}], "mark": {"type": "point", "color": "#ff0000", "filled": true, "size": 12, "opacity": 1}},
        {"transform": [{"filter": "datum.s === 'Us'"}], "mark": {"type": "line", "color": "#ff0000", "strokeWidth": 2}},
        {"transform": [{"filter": "datum.s === 'Us'"}], "mark": {"type": "point", "shape": "M0,-1L0.2245,-0.309L0.951,-0.309L0.363,0.118L0.588,0.809L0,0.382L-0.588,0.809L-0.363,0.118L-0.951,-0.309L-0.2245,-0.309Z", "color": "#ff0000", "filled": false, "size": 300, "strokeWidth": 1.5, "opacity": 1}},
        {"transform": [{"filter": "datum.s === 'Vt'"}], "mark": {"type": "line", "color": "#00ff00", "strokeWidth": 5, "strokeDash": [13, 10], "strokeCap": "butt"}},
        {"transform": [{"filter": "datum.s === 'Vs'"}], "mark": {"type": "line", "color": "#00ff00", "strokeWidth": 2}},
        {"transform": [{"filter": "datum.s === 'Vs'"}], "mark": {"type": "point", "shape": "M0,-1L0.2245,-0.309L0.951,-0.309L0.363,0.118L0.588,0.809L0,0.382L-0.588,0.809L-0.363,0.118L-0.951,-0.309L-0.2245,-0.309Z", "color": "#00ff00", "filled": false, "size": 300, "strokeWidth": 1.5, "opacity": 1}},
        {"transform": [{"filter": "datum.s === 'Vn'"}], "mark": {"type": "line", "color": "#00ff00", "strokeWidth": 1.8, "strokeDash": [10, 6]}},
        {"transform": [{"filter": "datum.s === 'Vn'"}], "mark": {"type": "point", "color": "#00ff00", "filled": true, "size": 14, "opacity": 1}},
        {"transform": [{"filter": "datum.s === 'G0'"}], "mark": {"type": "line", "color": "#00ff00", "strokeWidth": 1, "strokeDash": [8, 4, 2, 4]}},
        {"transform": [{"filter": "datum.s === 'B'"}], "mark": {"type": "point", "color": "#0000ff", "filled": true, "size": 20, "opacity": 1}}
      ]
    },
    {
      "mark": {"type": "rule", "color": "#333333", "strokeWidth": 1.5},
      "encoding": {
        "x": {"datum": 0, "type": "quantitative", "axis": {"orient": "top", "values": [-20, -10, 0, 10, 20], "labels": false, "title": null, "grid": false}},
        "y": {"datum": 0, "type": "quantitative", "axis": {"orient": "right", "values": [0, 200, 400, 600, 800, 1000, 1200, 1400, 1600, 1800, 2000], "labels": false, "title": null, "grid": false}},
        "y2": {"datum": 2130}
      }
    }
  ]
}
